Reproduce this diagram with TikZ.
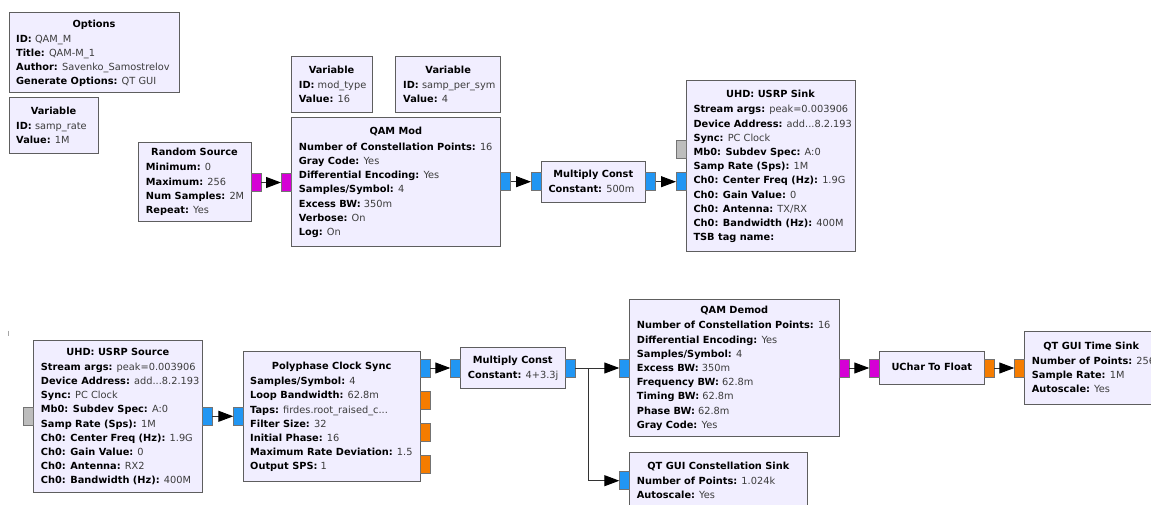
\documentclass[tikz,border=0pt]{standalone}
\usepackage{fontspec}
\setmainfont{DejaVu Sans}
\usetikzlibrary{arrows.meta}
\definecolor{blkfill}{HTML}{F1EEFF}
\definecolor{blkdraw}{HTML}{5E5E5E}
\definecolor{cplx}{HTML}{2196F3}
\definecolor{flt}{HTML}{F57C00}
\definecolor{byt}{HTML}{D500D5}
\definecolor{msg}{HTML}{BDBDBD}
\definecolor{valc}{HTML}{3C3C3C}
\newcommand\gfont{\fontsize{9.8}{12}\selectfont}
\newcommand\mkblock[5]{\pgfmathsetmacro\bw{#4-#2}\pgfmathsetmacro\bh{#5-#3}%
  \node[blockbox,minimum width=\bw pt,minimum height=\bh pt] (#1) at (#2,#3) {};}
\newcommand\mkport[4]{\node[portbox,fill=#4] (#1) at (#2,#3) {};}
\newcommand\ttl[4]{\node[ttlsty] (#1) at (#2,#3) {#4};}
\newcommand\kv[5]{\node[kvsty] (#1) at (#2,#3) {\textcolor{black}{\bfseries #4} #5};}
\begin{document}
\begin{tikzpicture}[x=1pt,y=-1pt,
  blockbox/.style={draw=blkdraw,fill=blkfill,line width=1pt,inner sep=0,outer sep=0,anchor=north west},
  portbox/.style={draw=black!55,line width=0.8pt,inner sep=0,outer sep=0,minimum width=10pt,minimum height=18pt,anchor=north west},
  conn/.style={line width=1pt,draw=black!80,-{Triangle[length=15pt,width=11pt,color=black]}},
  ttlsty/.style={anchor=base,inner sep=0,font=\gfont\bfseries,text=black},
  kvsty/.style={anchor=base west,inner sep=0,font=\gfont,text=valc}]
\useasboundingbox (0,0) rectangle (1151,505);
\clip (0,0) rectangle (1151,505);
\fill[white] (0,0) rectangle (1151,505);
\draw[black!35,line width=0.8pt] (8.3,330.7) -- (8.3,336);
% blocks
\mkblock{opt}{9}{12.7}{179}{92.7}
\mkblock{vsr}{9}{98}{98}{154}
\mkblock{rs}{138}{142.7}{251}{222}
\mkblock{vmt}{291}{56.7}{372}{113}
\mkblock{vsps}{395.7}{56.7}{500.7}{113}
\mkblock{qm}{291}{117.7}{500.7}{246.7}
\mkblock{mcA}{541}{161.7}{645.7}{202.3}
\mkblock{snk}{686}{81}{855}{251}
\mkblock{src}{33.3}{340}{202.3}{492.7}
\mkblock{pcs}{243.3}{351.7}{420}{481}
\mkblock{mcB}{460.3}{347.3}{565.3}{388.3}
\mkblock{dem}{629.3}{299.3}{839.3}{436.7}
\mkblock{cs}{629.3}{452.7}{807.3}{520}
\mkblock{uf}{879.3}{351.7}{984.3}{384}
\mkblock{ts}{1024.3}{331.7}{1158}{404}
% ports
\mkport{rs-o}{251}{173.5}{byt}
\mkport{qm-i}{281}{173.5}{byt}
\mkport{qm-o}{500.7}{172.7}{cplx}
\mkport{mcA-i}{531}{172.7}{cplx}
\mkport{mcA-o}{645.7}{172.7}{cplx}
\mkport{snk-i}{676}{172.7}{cplx}
\mkport{snk-m}{676}{140.2}{msg}
\mkport{src-m}{23.3}{407.3}{msg}
\mkport{src-o}{202.3}{407.3}{cplx}
\mkport{pcs-i}{233.3}{407.3}{cplx}
\mkport{pcs-o0}{420}{359}{cplx}
\mkport{pcs-o1}{420}{391}{flt}
\mkport{pcs-o2}{420}{423.3}{flt}
\mkport{pcs-o3}{420}{455.5}{flt}
\mkport{mcB-i}{450.3}{359}{cplx}
\mkport{mcB-o}{565.3}{359}{cplx}
\mkport{dem-i}{619.3}{359}{cplx}
\mkport{dem-o}{839.3}{359}{byt}
\mkport{uf-i}{869.3}{359}{byt}
\mkport{uf-o}{984.3}{359}{flt}
\mkport{ts-i}{1014.3}{359}{flt}
\mkport{cs-i}{619.3}{471.7}{cplx}
% connections
\draw[conn] (rs-o.east) -- (qm-i.west);
\draw[conn] (qm-o.east) -- (mcA-i.west);
\draw[conn] (mcA-o.east) -- (snk-i.west);
\draw[conn] (src-o.east) -- (pcs-i.west);
\draw[conn] (pcs-o0.east) -- (mcB-i.west);
\draw[conn] (mcB-o.east) -- (dem-i.west);
\coordinate (br) at (588.7,368);
\draw[conn] (mcB-o.east) -- (br) |- (cs-i.west);
\draw[conn] (dem-o.east) -- (uf-i.west);
\draw[conn] (uf-o.east) -- (ts-i.west);
% texts: Options
\ttl{opt-t}{94}{27.6}{Options}
\kv{opt-1}{16}{42.3}{ID:}{QAM\_M}
\kv{opt-2}{16}{56.5}{Title:}{QAM-M\_1}
\kv{opt-3}{16}{70.7}{Author:}{Savenko\_Samostrelov}
\kv{opt-4}{16}{84.9}{Generate Options:}{QT GUI}
% Variable samp_rate
\ttl{vsr-t}{53.5}{114.6}{Variable}
\kv{vsr-1}{16}{129.6}{ID:}{samp\_rate}
\kv{vsr-2}{16}{143.8}{Value:}{1M}
% Random Source
\ttl{rs-t}{194.5}{155.6}{Random Source}
\kv{rs-1}{145.7}{170.9}{Minimum:}{0}
\kv{rs-2}{145.7}{185.1}{Maximum:}{256}
\kv{rs-3}{145.7}{199.3}{Num Samples:}{2M}
\kv{rs-4}{145.7}{213.5}{Repeat:}{Yes}
% Variable mod_type
\ttl{vmt-t}{331.5}{73.6}{Variable}
\kv{vmt-1}{298.7}{88.3}{ID:}{mod\_type}
\kv{vmt-2}{298.7}{102.5}{Value:}{16}
% Variable samp_per_sym
\ttl{vsps-t}{448.2}{73.6}{Variable}
\kv{vsps-1}{403}{88.3}{ID:}{samp\_per\_sym}
\kv{vsps-2}{403}{102.5}{Value:}{4}
% QAM Mod
\ttl{qm-t}{395.85}{134.6}{QAM Mod}
\kv{qm-1}{298.7}{150.3}{Number of Constellation Points:}{16}
\kv{qm-2}{298.7}{164.5}{Gray Code:}{Yes}
\kv{qm-3}{298.7}{178.7}{Differential Encoding:}{Yes}
\kv{qm-4}{298.7}{192.9}{Samples/Symbol:}{4}
\kv{qm-5}{298.7}{207.1}{Excess BW:}{350m}
\kv{qm-6}{298.7}{221.3}{Verbose:}{On}
\kv{qm-7}{298.7}{235.5}{Log:}{On}
% Multiply Const A
\ttl{mcA-t}{593.35}{177.9}{Multiply Const}
\kv{mcA-1}{548.3}{192.6}{Constant:}{500m}
% USRP Sink
\ttl{snk-t}{770.5}{97.6}{UHD: USRP Sink}
\kv{snk-1}{693.3}{112.9}{Stream args:}{peak=0.003906}
\kv{snk-2}{693.3}{127.1}{Device Address:}{add...8.2.193}
\kv{snk-3}{693.3}{141.3}{Sync:}{PC Clock}
\kv{snk-4}{693.3}{155.5}{Mb0: Subdev Spec:}{A:0}
\kv{snk-5}{693.3}{169.7}{Samp Rate (Sps):}{1M}
\kv{snk-6}{693.3}{183.9}{Ch0: Center Freq (Hz):}{1.9G}
\kv{snk-7}{693.3}{198.1}{Ch0: Gain Value:}{0}
\kv{snk-8}{693.3}{212.3}{Ch0: Antenna:}{TX/RX}
\kv{snk-9}{693.3}{226.5}{Ch0: Bandwidth (Hz):}{400M}
\kv{snk-10}{693.3}{240.7}{TSB tag name:}{}
% USRP Source
\ttl{src-t}{117.8}{355.3}{UHD: USRP Source}
\kv{src-1}{40.7}{370.3}{Stream args:}{peak=0.003906}
\kv{src-2}{40.7}{384.5}{Device Address:}{add...8.2.193}
\kv{src-3}{40.7}{398.7}{Sync:}{PC Clock}
\kv{src-4}{40.7}{412.9}{Mb0: Subdev Spec:}{A:0}
\kv{src-5}{40.7}{427.1}{Samp Rate (Sps):}{1M}
\kv{src-6}{40.7}{441.3}{Ch0: Center Freq (Hz):}{1.9G}
\kv{src-7}{40.7}{455.5}{Ch0: Gain Value:}{0}
\kv{src-8}{40.7}{469.7}{Ch0: Antenna:}{RX2}
\kv{src-9}{40.7}{483.9}{Ch0: Bandwidth (Hz):}{400M}
% Polyphase Clock Sync
\ttl{pcs-t}{331.65}{369.3}{Polyphase Clock Sync}
\kv{pcs-1}{250}{384.6}{Samples/Symbol:}{4}
\kv{pcs-2}{250}{398.8}{Loop Bandwidth:}{62.8m}
\kv{pcs-3}{250}{413.0}{Taps:}{firdes.root\_raised\_c...}
\kv{pcs-4}{250}{427.2}{Filter Size:}{32}
\kv{pcs-5}{250}{441.4}{Initial Phase:}{16}
\kv{pcs-6}{250}{455.6}{Maximum Rate Deviation:}{1.5}
\kv{pcs-7}{250}{469.8}{Output SPS:}{1}
% Multiply Const B
\ttl{mcB-t}{512.8}{363.6}{Multiply Const}
\kv{mcB-1}{467.7}{378.3}{Constant:}{4+3.3j}
% QAM Demod
\ttl{dem-t}{734.3}{313.6}{QAM Demod}
\kv{dem-1}{636.7}{328.9}{Number of Constellation Points:}{16}
\kv{dem-2}{636.7}{343.1}{Differential Encoding:}{Yes}
\kv{dem-3}{636.7}{357.3}{Samples/Symbol:}{4}
\kv{dem-4}{636.7}{371.5}{Excess BW:}{350m}
\kv{dem-5}{636.7}{385.7}{Frequency BW:}{62.8m}
\kv{dem-6}{636.7}{399.9}{Timing BW:}{62.8m}
\kv{dem-7}{636.7}{414.1}{Phase BW:}{62.8m}
\kv{dem-8}{636.7}{428.3}{Gray Code:}{Yes}
% Constellation Sink
\ttl{cs-t}{718.3}{469.3}{QT GUI Constellation Sink}
\kv{cs-1}{636.7}{484.6}{Number of Points:}{1.024k}
\kv{cs-2}{636.7}{498.8}{Autoscale:}{Yes}
% UChar To Float
\ttl{uf-t}{931.8}{370.3}{UChar To Float}
% Time Sink
\ttl{ts-t}{1091.2}{349.3}{QT GUI Time Sink}
\kv{ts-1}{1031.7}{364.3}{Number of Points:}{256}
\kv{ts-2}{1031.7}{378.5}{Sample Rate:}{1M}
\kv{ts-3}{1031.7}{392.7}{Autoscale:}{Yes}
\end{tikzpicture}
\end{document}
